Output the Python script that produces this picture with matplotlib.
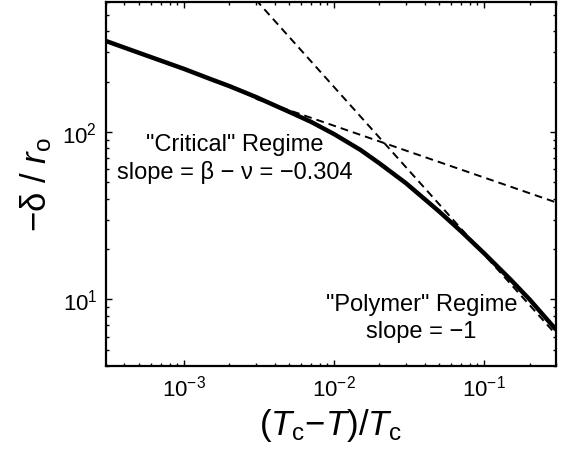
import numpy as np
import matplotlib
matplotlib.use("Agg")
import matplotlib.pyplot as plt

plt.rcParams['font.family'] = ['Liberation Sans', 'DejaVu Sans']
plt.rcParams['mathtext.fontset'] = 'custom'
plt.rcParams['mathtext.rm'] = 'Liberation Sans'
plt.rcParams['mathtext.it'] = 'Liberation Sans:italic'
plt.rcParams['mathtext.bf'] = 'Liberation Sans:bold'

# solid curve
t_red = [3.0e-4, 5e-4, 1e-3, 1.5e-3, 2e-3, 3e-3, 5e-3, 7e-3, 1e-2, 1.5e-2,
         2e-2, 3e-2, 5e-2, 7e-2, 0.1, 0.15, 0.2, 0.3]
delta = [350, 297, 238, 207, 188, 162, 132, 115, 97, 78,
         65, 49.5, 33.5, 25.5, 18.8, 13.1, 10.0, 6.6]

# dashed asymptotes (end points)
crit_x = [3.0e-3, 0.3]
crit_y = [158, 38]
poly_x = [3.0e-3, 0.3]
poly_y = [617, 6.17]

fig = plt.figure(figsize=(5.65, 4.52), dpi=100)
ax = fig.add_axes([0.187, 0.188, 0.797, 0.806])

ax.loglog(t_red, delta, color='black', lw=3.2, solid_capstyle='butt')
ax.loglog(crit_x, crit_y, color='black', lw=1.4, ls=(0, (4, 2.6)))
ax.loglog(poly_x, poly_y, color='black', lw=1.4, ls=(0, (4, 2.6)))

ax.set_xlim(3e-4, 0.3)
ax.set_ylim(4, 600)

ax.tick_params(which='both', direction='in', top=True, right=True,
               colors='black', labelsize=16)
ax.tick_params(which='major', length=4, width=1, pad=6)
ax.tick_params(which='minor', length=2, width=1)
for s in ax.spines.values():
    s.set_linewidth(1.6)

ax.set_xlabel(r'$(T_{\rm c}{-}T)/T_{\rm c}$', fontsize=25, labelpad=4)
ax.set_ylabel(r'−δ / $r_{\rm o}$', fontsize=25, labelpad=6)

ax.text(0.00216, 70, '"Critical" Regime\nslope = β − ν = −0.304',
        ha='center', va='center', fontsize=17, linespacing=1.25)
ax.text(0.038, 7.8, '"Polymer" Regime\nslope = −1',
        ha='center', va='center', fontsize=17, linespacing=1.25)

fig.savefig('out.png', dpi=100)
